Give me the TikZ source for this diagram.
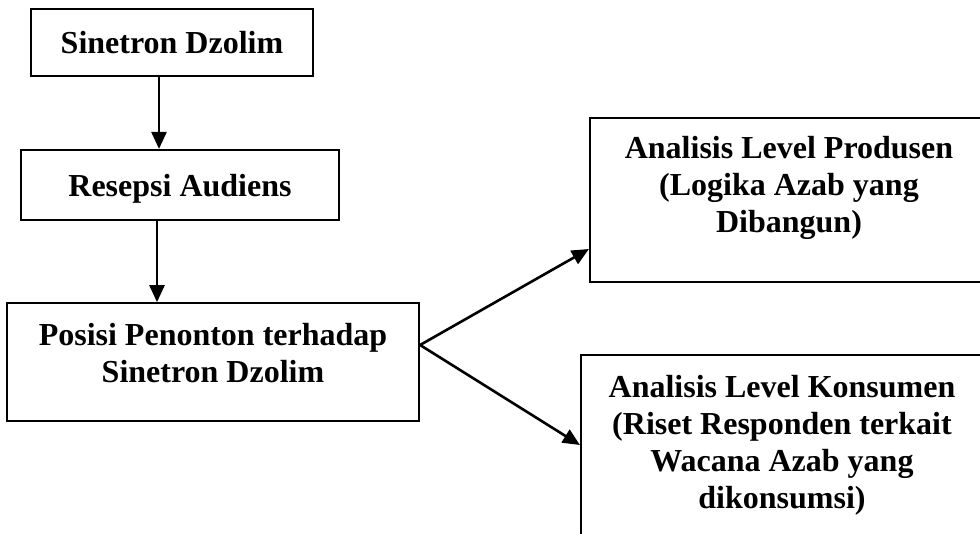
\documentclass[tikz,border=0pt]{standalone}
\usepackage{fontspec}
\setmainfont{Liberation Serif}
\usetikzlibrary{arrows.meta}
\begin{document}
\begin{tikzpicture}[x=1pt,y=-1pt,
  boxnode/.style={draw=black, line width=2.2pt, rectangle, inner sep=0pt},
  txt/.style={inner sep=0pt, align=center, font=\fontsize{32}{37}\selectfont\bfseries},
  arr/.style={draw=black, line width=2.6pt, -{Triangle[length=17pt,width=15pt]}}]
\useasboundingbox (0,0) rectangle (980,533);
\clip (0,0) rectangle (980,533);
\node[boxnode, minimum width=282pt, minimum height=67pt] (b1) at (172,42.5) {};
\node[boxnode, minimum width=318pt, minimum height=70pt] (b2) at (180,185) {};
\node[boxnode, minimum width=412pt, minimum height=117.5pt] (b3) at (213,362) {};
\node[boxnode, minimum width=400pt, minimum height=164pt] (b4) at (790,200) {};
\node[boxnode, minimum width=404pt, minimum height=190pt] (b5) at (783,450) {};
\node[txt, anchor=base] (t1) at (172,53) {Sinetron Dzolim};
\node[txt, anchor=base] (t2) at (180,196) {Resepsi Audiens};
\node[txt] (t3) at (213,353) {Posisi Penonton terhadap\\Sinetron Dzolim};
\node[txt] (t4) at (789,188) {Analisis Level Produsen\\(Logika Azab yang\\Dibangun)};
\node[txt] (t5) at (782,445) {Analisis Level Konsumen\\(Riset Responden terkait\\Wacana Azab yang\\dikonsumsi)};
\coordinate (j) at ([yshift=17pt]b3.east);
\draw[arr] ([xshift=-13pt]b1.south) -- ([xshift=-13pt]b1.south |- b2.north);
\draw[arr] ([xshift=-23pt]b2.south) -- ([xshift=-23pt]b2.south |- b3.north);
\draw[arr] (j) -- ([yshift=-49pt]b4.west);
\draw[arr] (j) -- ([yshift=5pt]b5.west);
\end{tikzpicture}
\end{document}
